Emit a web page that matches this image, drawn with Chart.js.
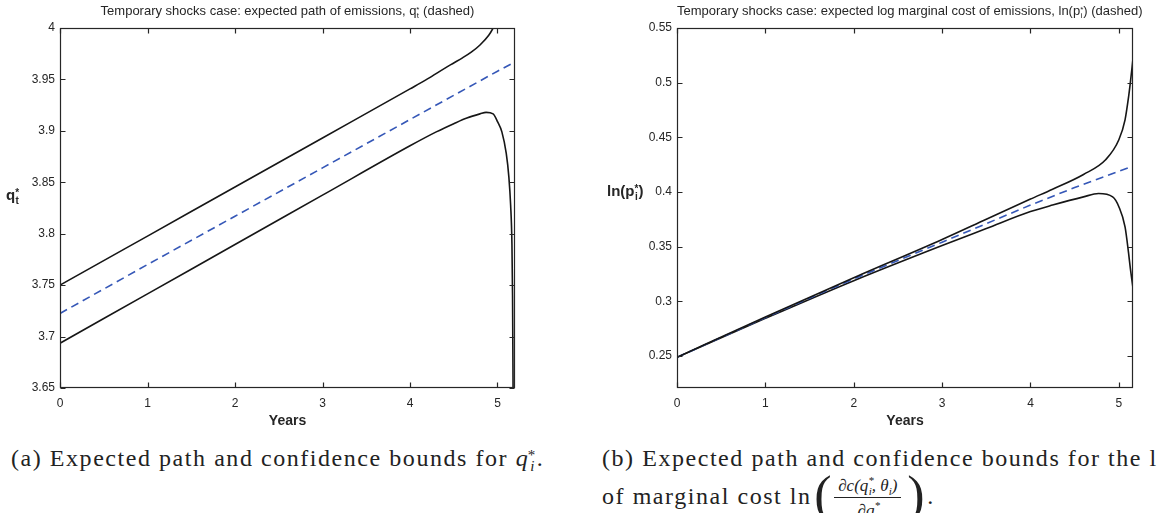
<!DOCTYPE html>
<html>
<head>
<meta charset="utf-8">
<script src="https://cdn.jsdelivr.net/npm/chart.js@4.4.1/dist/chart.umd.min.js"></script>
<style>
body{margin:0;width:1158px;height:513px;overflow:hidden;position:relative;background:#fff;font-family:"Liberation Sans",Arial,sans-serif;color:#262626}
.box{position:absolute;top:0;width:579px;height:430px}
.ttl{position:absolute;top:3px;text-align:center;font-size:13px;white-space:nowrap;line-height:15px}
.st{display:inline-block;vertical-align:-3px;font-size:8px;line-height:6px;text-align:center}
.st span{display:block}
.ylab{position:absolute;font-weight:bold;font-size:15px;white-space:nowrap;line-height:17px}
.ylab .st{font-size:10px;line-height:8px;vertical-align:-4px}
.cap{position:absolute;font-family:"Liberation Serif","Times New Roman",serif;font-size:24px;letter-spacing:1.55px;white-space:nowrap;color:#222;line-height:28px}
.cap i{letter-spacing:0}
.frac{position:absolute;display:flex;flex-direction:column;align-items:center;font-size:17px;letter-spacing:0;line-height:16px;font-style:italic}
.frac sup,.frac sub{line-height:0;font-size:11px}
.frac .num{border-bottom:1.5px solid #222;padding:0 4px 3px 4px}
.frac .den{padding-top:5px}
.big{position:absolute;font-size:52px;line-height:52px;letter-spacing:0}
</style>
</head>
<body>
<div class="box" style="left:0"><canvas id="chartQ"></canvas></div>
<div class="box" style="left:579px"><canvas id="chartP"></canvas></div>

<div class="ttl" style="left:60px;width:455px">Temporary shocks case: expected path of emissions, q<span class="st"><span>*</span><span>t</span></span> (dashed)</div>
<div class="ttl" style="left:677px;width:456px">Temporary shocks case: expected log marginal cost of emissions, ln(p<span class="st"><span>*</span><span>i</span></span>) (dashed)</div>

<div class="ylab" style="left:6px;top:186px">q<span class="st"><span>*</span><span>t</span></span></div>
<div class="ylab" style="left:607px;top:182px">ln(p<span class="st"><span>*</span><span>i</span></span>)</div>

<div class="cap" style="left:11px;top:444px">(a) Expected path and confidence bounds for <i>q</i><span class="st" style="font-size:15px;line-height:11px;vertical-align:-5px"><span>*</span><span><i>i</i></span></span>.</div>
<div class="cap" style="left:602px;top:444px">(b) Expected path and confidence bounds for the log</div>
<div class="cap" style="left:602px;top:482px">of marginal cost ln <span style="position:relative;display:inline-block;width:108px;height:1px"><span class="big" style="left:-5px;top:-34px">(</span><span class="frac" style="left:15px;top:-25px"><span class="num">∂c(q<sup>*</sup><sub style="margin-left:-5px">i</sub>, θ<sub>i</sub>)</span><span class="den">∂q<sup>*</sup><sub style="margin-left:-5px">i</sub></span></span><span class="big" style="left:88px;top:-34px">)</span></span>.</div>

<script>
// tick positions
const xTicks = [0, 1, 2, 3, 4, 5];
const qTicks = [3.65, 3.7, 3.75, 3.8, 3.85, 3.9, 3.95, 4];
const pTicks = [0.25, 0.3, 0.35, 0.4, 0.45, 0.5, 0.55];

// (a) emissions q*
const qUpperYears = [0, 1, 2, 3, 4, 4.2, 4.4, 4.5, 4.6, 4.7, 4.8, 4.9, 4.95, 5.0, 5.1, 5.2];
const qUpper = [3.75, 3.7977, 3.8454, 3.8931, 3.9408, 3.9505, 3.961, 3.966, 3.971, 3.9765, 3.9835, 3.993, 4.0, 4.009, 4.04, 4.10];
const qMeanYears = [0, 1, 2, 3, 4, 5, 5.2];
const qMean = [3.7225, 3.770, 3.817, 3.864, 3.911, 3.958, 3.967];
const qLowerYears = [0, 1, 2, 3, 4, 4.3, 4.5, 4.65, 4.8, 4.87, 4.95, 5.0, 5.05, 5.1, 5.13, 5.15, 5.165, 5.172, 5.178, 5.19];
const qLower = [3.6935, 3.7415, 3.7895, 3.8375, 3.8855, 3.899, 3.907, 3.9125, 3.9165, 3.918, 3.9165, 3.909, 3.899, 3.878, 3.855, 3.828, 3.79, 3.74, 3.65, 3.45];

// (b) log marginal cost ln(p*)
const pMeanYears = [0, 1, 2, 3, 4, 4.5, 5, 5.16];
const pMean = [0.2487, 0.285, 0.3205, 0.354, 0.388, 0.404, 0.419, 0.4235];
const pUpperYears = [0, 1, 2, 3, 3.5, 4, 4.25, 4.6, 4.85, 5.0, 5.07, 5.11, 5.13, 5.16];
const pUpper = [0.2487, 0.2855, 0.3215, 0.3565, 0.375, 0.3935, 0.4025, 0.416, 0.4294, 0.4477, 0.466, 0.487, 0.50, 0.522];
const pLowerYears = [0, 1, 2, 3, 3.5, 4, 4.25, 4.6, 4.77, 4.93, 5.0, 5.07, 5.11, 5.13, 5.16];
const pLower = [0.2487, 0.2843, 0.3188, 0.351, 0.3665, 0.382, 0.388, 0.3955, 0.3985, 0.3955, 0.3865, 0.368, 0.344, 0.33, 0.312];

Chart.defaults.font.family = '"Liberation Sans", Arial, sans-serif';
Chart.defaults.color = '#262626';

const pts = (xs, ys) => xs.map((x, i) => ({ x: x, y: ys[i] }));

const solid = (xs, ys) => ({
    data: pts(xs, ys), borderColor: '#161616', borderWidth: 1.6,
    pointRadius: 0, cubicInterpolationMode: 'monotone', clip: 0
});
const dashed = (xs, ys) => ({
    data: pts(xs, ys), borderColor: '#3557b7', borderWidth: 1.6, borderDash: [8, 5],
    pointRadius: 0, tension: 0, clip: 0
});

// matlab style box with ticks pointing inwards
const boxTicks = {
    id: 'boxTicks',
    afterDraw(chart) {
        const { ctx, chartArea: a, scales } = chart;
        const L = Math.round(a.left) + 0.5, R = Math.round(a.right) - 0.5;
        const T = Math.round(a.top) + 0.5, B = Math.round(a.bottom) - 0.5;
        ctx.save();
        ctx.strokeStyle = '#262626';
        ctx.lineWidth = 1.2;
        ctx.strokeRect(L, T, R - L, B - T);
        ctx.beginPath();
        scales.x.ticks.forEach(t => {
            const px = Math.round(scales.x.getPixelForValue(t.value)) + 0.5;
            ctx.moveTo(px, B); ctx.lineTo(px, B - 5);
            ctx.moveTo(px, T); ctx.lineTo(px, T + 5);
        });
        scales.y.ticks.forEach(t => {
            const py = Math.round(scales.y.getPixelForValue(t.value)) + 0.5;
            ctx.moveTo(L, py); ctx.lineTo(L + 5, py);
            ctx.moveTo(R, py); ctx.lineTo(R - 5, py);
        });
        ctx.stroke();
        ctx.restore();
    }
};

function makeOptions(xMax, yMin, yMax, yTicks, pad, yWidth) {
    return {
        responsive: true,
        maintainAspectRatio: false,
        animation: false,
        layout: { padding: pad },
        plugins: { legend: { display: false }, tooltip: { enabled: false } },
        scales: {
            x: {
                type: 'linear', min: 0, max: xMax,
                afterBuildTicks: s => { s.ticks = xTicks.map(v => ({ value: v })); },
                afterFit: s => { s.height = 42; },
                grid: { display: false, drawTicks: false, tickLength: 0 }, border: { display: false },
                ticks: { font: { size: 12 }, padding: 8, maxRotation: 0, callback: v => String(v) },
                title: { display: true, text: 'Years', font: { size: 14, weight: 'bold' }, padding: 0 }
            },
            y: {
                min: yMin, max: yMax,
                afterBuildTicks: s => { s.ticks = yTicks.map(v => ({ value: v })); },
                afterFit: s => { s.width = yWidth; },
                grid: { display: false, drawTicks: false, tickLength: 0 }, border: { display: false },
                ticks: { font: { size: 12 }, padding: 5, callback: v => String(+v.toFixed(2)) }
            }
        }
    };
}

new Chart(document.getElementById('chartQ'), {
    type: 'line',
    data: { datasets: [solid(qUpperYears, qUpper), dashed(qMeanYears, qMean), solid(qLowerYears, qLower)] },
    options: makeOptions(5.2, 3.65, 4, qTicks, { left: 0, top: 28, right: 64, bottom: 0 }, 60),
    plugins: [boxTicks]
});

new Chart(document.getElementById('chartP'), {
    type: 'line',
    data: { datasets: [solid(pUpperYears, pUpper), dashed(pMeanYears, pMean), solid(pLowerYears, pLower)] },
    options: makeOptions(5.16, 0.2206, 0.55, pTicks, { left: 0, top: 28, right: 25, bottom: 0 }, 98),
    plugins: [boxTicks]
});
</script>
</body>
</html>
